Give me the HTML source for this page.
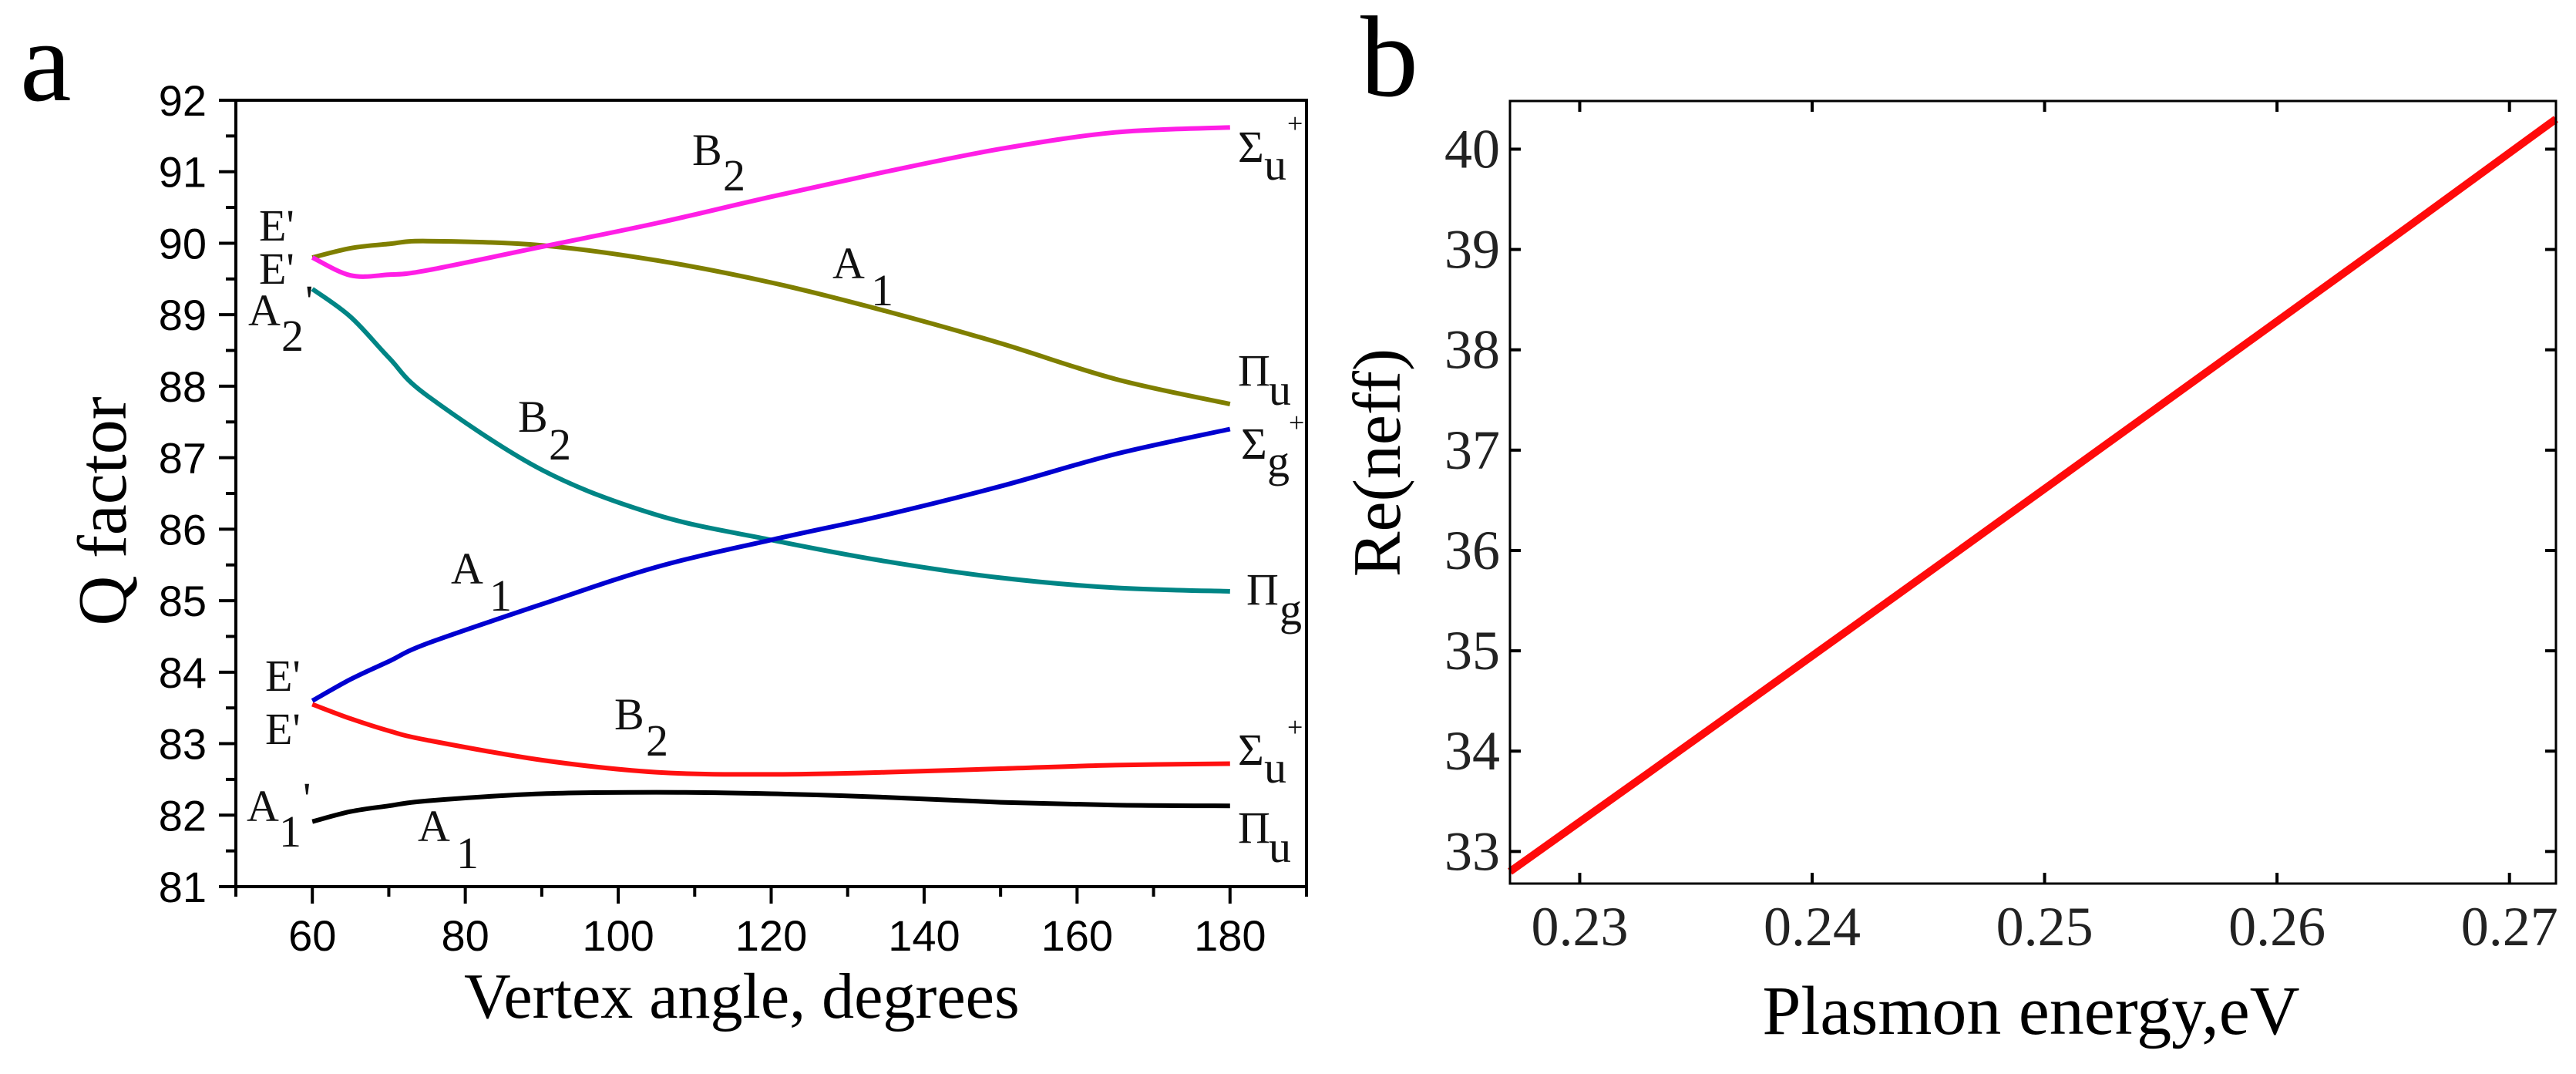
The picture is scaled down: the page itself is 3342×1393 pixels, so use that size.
<!DOCTYPE html>
<html><head><meta charset="utf-8">
<style>
html,body{margin:0;padding:0;background:#fff;}
svg{display:block;}
.serif{font-family:"Liberation Serif",serif;}
.sans{font-family:"Liberation Sans",sans-serif;}
</style></head>
<body>
<svg id="fig" xmlns="http://www.w3.org/2000/svg" width="3342" height="1393" viewBox="0 0 3342 1393">
<rect width="3342" height="1393" fill="#fff"/>
<g id="panelA">
  <text class="serif" x="26" y="130" font-size="150">a</text>
  <g id="aLines"></g>
  <g id="aAxes"></g>
  <text class="serif" font-size="90" text-anchor="middle" transform="translate(163,663) rotate(-90)">Q factor</text>
  <text class="serif" font-size="84" x="602" y="1320">Vertex angle, degrees</text>
  <g class="serif" font-size="58" fill="#111">
    <text x="336" y="312">E'</text>
    <text x="336" y="368">E'</text>
    <text x="322" y="422">A</text>
    <text x="365" y="455">2</text>
    <text x="396" y="410">'</text>
    <text x="898" y="214">B</text>
    <text x="938" y="247">2</text>
    <text x="1080" y="361">A</text>
    <text x="1130" y="396">1</text>
    <text x="672" y="560">B</text>
    <text x="712" y="596">2</text>
    <text x="585" y="757">A</text>
    <text x="635" y="792">1</text>
    <text x="344" y="896">E'</text>
    <text x="344" y="965">E'</text>
    <text x="797" y="946">B</text>
    <text x="838" y="980">2</text>
    <text x="320" y="1065">A</text>
    <text x="362" y="1098">1</text>
    <text x="393" y="1055">'</text>
    <text x="542" y="1091">A</text>
    <text x="592" y="1126">1</text>
    <text x="1606" y="210">Σ</text>
    <text x="1640" y="233">u</text>
    <text x="1670" y="172" font-size="36">+</text>
    <text x="1606" y="500">Π</text>
    <text x="1646" y="525">u</text>
    <text x="1610" y="595">Σ</text>
    <text x="1644" y="618">g</text>
    <text x="1672" y="560" font-size="36">+</text>
    <text x="1617" y="784">Π</text>
    <text x="1660" y="810">g</text>
    <text x="1606" y="992">Σ</text>
    <text x="1640" y="1015">u</text>
    <text x="1670" y="955" font-size="36">+</text>
    <text x="1606" y="1093">Π</text>
    <text x="1646" y="1118">u</text>
  </g>
</g>
<g id="panelB">
  <text class="serif" x="1765" y="124" font-size="150">b</text>
  <g id="bLines"></g>
  <g id="bAxes"></g>
  <text class="serif" font-size="88" text-anchor="middle" transform="translate(1816,600) rotate(-90)">Re(neff)</text>
  <text class="serif" font-size="90" x="2635" y="1341" text-anchor="middle">Plasmon energy,eV</text>
</g>
</svg>
<script>
// Panel a data
const angles = [60, 65, 70, 75, 90, 105, 120, 135, 150, 165, 180];
const qOlive = [89.8, 89.93, 89.99, 90.03, 89.97, 89.76, 89.45, 89.05, 88.6, 88.1, 87.75];
const qMagenta = [89.8, 89.55, 89.56, 89.62, 89.95, 90.28, 90.65, 91.0, 91.32, 91.55, 91.62];
const qTeal = [89.36, 88.97, 88.4, 87.87, 86.83, 86.2, 85.85, 85.55, 85.32, 85.18, 85.13];
const qBlue = [83.6, 83.9, 84.15, 84.4, 84.95, 85.47, 85.85, 86.2, 86.6, 87.05, 87.4];
const qRed = [83.55, 83.35, 83.18, 83.05, 82.77, 82.6, 82.57, 82.6, 82.65, 82.7, 82.72];
const qBlack = [81.91, 82.05, 82.13, 82.2, 82.3, 82.32, 82.3, 82.25, 82.18, 82.14, 82.13];
const aXTicks = [60, 80, 100, 120, 140, 160, 180];
const aYTicks = [81, 82, 83, 84, 85, 86, 87, 88, 89, 90, 91, 92];
// Panel b data
const energy = [0.227, 0.235, 0.245, 0.255, 0.265, 0.272];
const neff = [32.8, 34.12, 35.78, 35.78 + 1.67, 39.12, 40.3];
const bXTicks = [0.23, 0.24, 0.25, 0.26, 0.27];
const bYTicks = [33, 34, 35, 36, 37, 38, 39, 40];

const NS = 'http://www.w3.org/2000/svg';
function mk(tag, attrs, parent) {
  const e = document.createElementNS(NS, tag);
  for (const k in attrs) e.setAttribute(k, attrs[k]);
  parent.appendChild(e);
  return e;
}
// axes functions panel a
const aL = 306, aR = 1695, aT = 130, aB = 1150;
const ax = v => aL + (v - 50) / 140 * (aR - aL);
const ay = v => aB - (v - 81) / 11 * (aB - aT);
// panel b
const bL = 1959, bR = 3316, bT = 131, bB = 1146;
const bx = v => bL + (v - 0.227) / 0.045 * (bR - bL);
const by = v => bB - (v - 32.68) / (40.48 - 32.68) * (bB - bT);

function smoothPath(xs, ys) {
  const p = xs.map((x, i) => [x, ys[i]]);
  let d = 'M' + p[0][0].toFixed(1) + ',' + p[0][1].toFixed(1);
  for (let i = 0; i < p.length - 1; i++) {
    const p0 = p[Math.max(0, i - 1)], p1 = p[i], p2 = p[i + 1], p3 = p[Math.min(p.length - 1, i + 2)];
    const c1x = p1[0] + (p2[0] - p0[0]) / 6, c1y = p1[1] + (p2[1] - p0[1]) / 6;
    const c2x = p2[0] - (p3[0] - p1[0]) / 6, c2y = p2[1] - (p3[1] - p1[1]) / 6;
    d += ' C' + c1x.toFixed(1) + ',' + c1y.toFixed(1) + ' ' + c2x.toFixed(1) + ',' + c2y.toFixed(1) + ' ' + p2[0].toFixed(1) + ',' + p2[1].toFixed(1);
  }
  return d;
}

const aLines = document.getElementById('aLines');
const seriesA = [
  ['olive', qOlive, '#7f7f00'],
  ['magenta', qMagenta, '#ff1ee6'],
  ['teal', qTeal, '#008585'],
  ['blue', qBlue, '#0000d0'],
  ['red', qRed, '#ff1010'],
  ['black', qBlack, '#000000']
];
seriesA.forEach(s => {
  const path = mk('path', {d: smoothPath(angles.map(ax), s[1].map(ay)), fill: 'none', stroke: s[2], 'stroke-width': 6, 'stroke-linejoin': 'round'}, aLines);
  
  
});

const aAxes = document.getElementById('aAxes');
const frameA = mk('rect', {x: aL, y: aT, width: aR - aL, height: aB - aT, fill: 'none', stroke: '#000', 'stroke-width': 4}, aAxes);


for (let v = 81; v <= 92; v += 0.5) {
  const major = Math.abs(v - Math.round(v)) < 1e-6;
  const t = mk('line', {x1: aL, x2: aL - (major ? 22 : 13), y1: ay(v), y2: ay(v), stroke: '#000', 'stroke-width': 4}, aAxes);
  
  
}
aYTicks.forEach(v => {
  const t = mk('text', {x: 268, y: ay(v) + 20, 'text-anchor': 'end', 'font-size': 56, class: 'sans'}, aAxes);
  t.textContent = v;
  
  
});
for (let v = 50; v <= 190; v += 10) {
  const major = (v % 20 === 0);
  const t = mk('line', {x1: ax(v), x2: ax(v), y1: aB, y2: aB + (major ? 22 : 13), stroke: '#000', 'stroke-width': 4}, aAxes);
  
  
}
aXTicks.forEach(v => {
  const t = mk('text', {x: ax(v), y: 1233, 'text-anchor': 'middle', 'font-size': 56, class: 'sans'}, aAxes);
  t.textContent = v;
  
  
});

// panel b
const bLines = document.getElementById('bLines');
const lineB = mk('path', {d: smoothPath(energy.map(bx), neff.map(by)), fill: 'none', stroke: '#ff0a0a', 'stroke-width': 10}, bLines);



const bAxes = document.getElementById('bAxes');
const frameB = mk('rect', {x: bL, y: bT, width: bR - bL, height: bB - bT, fill: 'none', stroke: '#000', 'stroke-width': 3}, bAxes);


bYTicks.forEach(v => {
  const t1 = mk('line', {x1: bL, x2: bL + 14, y1: by(v), y2: by(v), stroke: '#000', 'stroke-width': 4}, bAxes);
  
  
  const t2 = mk('line', {x1: bR, x2: bR - 14, y1: by(v), y2: by(v), stroke: '#000', 'stroke-width': 4}, bAxes);
  
  
  const tl = mk('text', {x: 1946, y: by(v) + 24, 'text-anchor': 'end', 'font-size': 72, class: 'serif', fill: '#222'}, bAxes);
  tl.textContent = v;
  
  
});
bXTicks.forEach(v => {
  const t1 = mk('line', {x1: bx(v), x2: bx(v), y1: bB, y2: bB - 14, stroke: '#000', 'stroke-width': 4}, bAxes);
  
  
  const t2 = mk('line', {x1: bx(v), x2: bx(v), y1: bT, y2: bT + 14, stroke: '#000', 'stroke-width': 4}, bAxes);
  
  
  const tl = mk('text', {x: bx(v), y: 1226, 'text-anchor': 'middle', 'font-size': 72, class: 'serif', fill: '#222'}, bAxes);
  tl.textContent = v.toFixed(2);
  
  
});
</script>
</body></html>
